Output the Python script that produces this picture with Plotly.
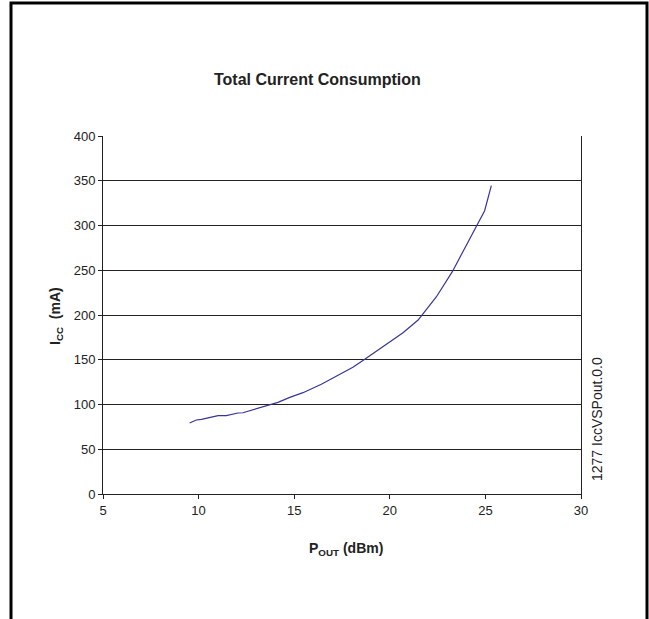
import plotly.graph_objects as go

# Data
pout_dbm = [9.53, 9.88, 10.15, 10.58, 11.02, 11.45, 12.06, 12.32, 13.55, 14.15,
            14.77, 15.46, 16.42, 17.38, 18.07, 18.69, 19.47, 20.0, 20.69, 21.48,
            22.44, 23.27, 24.0, 24.53, 24.96, 25.31]
icc_ma = [79.3, 82.7, 83.4, 85.7, 87.5, 87.5, 90.5, 90.8, 98.7, 102.4,
          108.0, 113.2, 122.6, 133.7, 141.5, 150.5, 162.0, 170.2, 180.2, 194.4,
          220.4, 248.4, 278.2, 298.7, 316.5, 344.5]

x_ticks = [5, 10, 15, 20, 25, 30]
y_ticks = [0, 50, 100, 150, 200, 250, 300, 350, 400]

FONT = "Liberation Sans Narrow, Arial Narrow, Liberation Sans, Arial, sans-serif"

fig = go.Figure()
fig.add_trace(go.Scatter(x=pout_dbm, y=icc_ma, mode="lines",
                         line=dict(color="#35359a", width=1.2), showlegend=False))

W, H = 649, 619
L, R, T, B = 103, 581, 136, 494
pw, ph = R - L, B - T

def px(xp):
    return (xp - L) / pw

def py(yp):
    return (B - yp) / ph

fig.update_layout(
    width=W, height=H,
    margin=dict(l=L, r=W - R, t=T, b=H - B),
    paper_bgcolor="white", plot_bgcolor="white",
    font=dict(family=FONT, size=13, color="#222"),
    xaxis=dict(range=[5, 30], tickvals=x_ticks, ticks="outside", ticklen=4,
               tickcolor="#222", showline=True, linecolor="#222", linewidth=1,
               showgrid=False, zeroline=False, mirror=False,
               tickfont=dict(size=13, family=FONT)),
    yaxis=dict(range=[0, 400], tickvals=y_ticks, ticks="outside", ticklen=4,
               tickcolor="#222", showline=True, linecolor="#222", linewidth=1,
               mirror=True, showgrid=True, gridcolor="#222", gridwidth=1,
               zeroline=False, tickfont=dict(size=13, family=FONT)),
    annotations=[
        dict(text="<b>Total Current Consumption</b>", xref="paper", yref="paper",
             x=px(317), y=py(80), xanchor="center", yanchor="middle",
             showarrow=False, font=dict(size=16, family=FONT, color="#222")),
        dict(text="<b>P<sub>OUT</sub> (dBm)</b>", xref="paper", yref="paper",
             x=px(346), y=py(549), xanchor="center", yanchor="middle",
             showarrow=False, font=dict(size=14, family=FONT, color="#222")),
        dict(text="<b>I<sub>CC</sub>  (mA)</b>", xref="paper", yref="paper",
             x=px(56), y=py(316), xanchor="center", yanchor="middle", textangle=-90,
             showarrow=False, font=dict(size=14, family=FONT, color="#222")),
        dict(text="1277 IccVSPout.0.0", xref="paper", yref="paper",
             x=px(597), y=py(419), xanchor="center", yanchor="middle", textangle=-90,
             showarrow=False, font=dict(size=14, family=FONT, color="#222")),
    ],
    shapes=[
        dict(type="rect", xref="paper", yref="paper",
             x0=px(11), x1=px(647), y0=py(640), y1=py(3),
             line=dict(color="black", width=3), fillcolor="rgba(0,0,0,0)", layer="above"),
    ],
)

fig.write_html("out.html", config={"displayModeBar": False},
               post_script="document.body.style.margin='0';document.body.style.padding='0';")
